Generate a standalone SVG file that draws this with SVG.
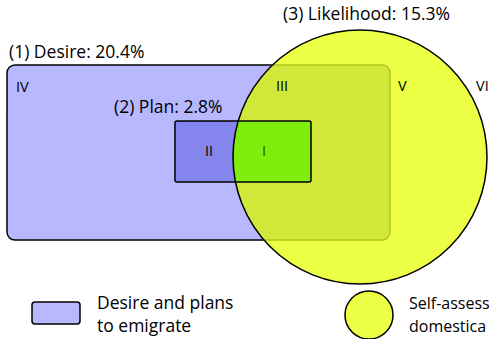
<svg xmlns="http://www.w3.org/2000/svg" width="491" height="339" viewBox="0 0 491 339">
<style>
text{font-family:"Open Sans","Noto Sans","DejaVu Sans",sans-serif;fill:#000}
.lbl{font-size:17.5px}
.rn{font-size:14.5px}
.lg{font-size:16px}
.blk{stroke:#000;stroke-width:1.5}
</style>
<defs>
<clipPath id="cc"><circle cx="360" cy="157" r="127"/></clipPath>
</defs>
<rect width="491" height="339" fill="#fff"/>
<g id="desire">
<rect x="7" y="65" width="383" height="175" rx="8" fill="#b8b8ff" class="blk"/>
<text class="lbl" x="9" y="58">(1) Desire: 20.4%</text>
<text class="rn" x="16" y="92">IV</text>
</g>
<g id="plan">
<rect x="175" y="121" width="136" height="61" rx="2" fill="#8585ee" class="blk"/>
<text class="lbl" x="114" y="113">(2) Plan: 2.8%</text>
<text class="rn" x="205" y="156">II</text>
</g>
<g id="likelihood">
<circle cx="360" cy="157" r="127" fill="#ecff45"/>
<g clip-path="url(#cc)">
<rect x="7" y="65" width="383" height="175" rx="8" fill="#cfe83a" stroke="#b3c41c" stroke-width="1.5"/>
<rect x="175" y="121" width="136" height="61" rx="2" fill="#80ee0c" class="blk"/>
</g>
<circle cx="360" cy="157" r="127" fill="none" class="blk"/>
<text class="lbl" x="283" y="20">(3) Likelihood: 15.3%</text>
<text class="rn" x="276" y="91">III</text>
<text class="rn" x="262" y="156" style="fill:#2d5200">I</text>
<text class="rn" x="398" y="91">V</text>
<text class="rn" x="476" y="91">VI</text>
</g>
<g id="legend-rect">
<rect x="32" y="302" width="48" height="22" rx="3" fill="#b8b8ff" class="blk"/>
<text class="lbl" x="97" y="309">Desire and plans</text>
<text class="lbl" x="97" y="332">to emigrate</text>
</g>
<g id="legend-circle">
<circle cx="369" cy="315" r="24" fill="#ecff45" class="blk"/>
<text class="lg" x="409" y="309">Self-assess</text>
<text class="lg" x="409" y="332">domestica</text>
</g>
</svg>
